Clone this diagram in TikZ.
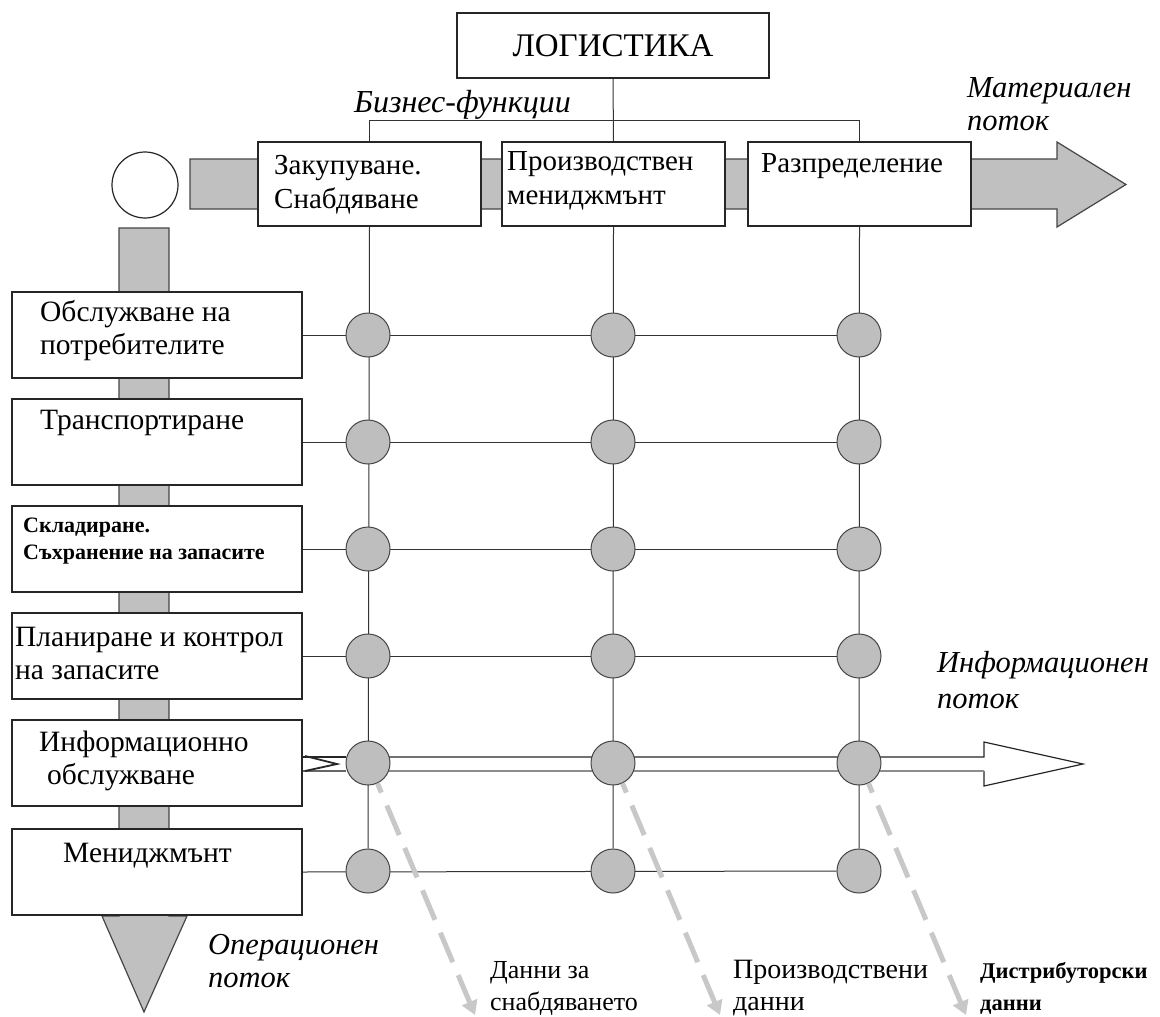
\documentclass[tikz,border=0pt]{standalone}
\usepackage{fontspec}
\setmainfont{Liberation Serif}
\usetikzlibrary{arrows.meta,backgrounds}
\definecolor{bandgray}{RGB}{192,192,192}
\definecolor{dotgray}{RGB}{190,190,190}
\definecolor{dashgray}{RGB}{200,200,200}
\definecolor{edgegray}{RGB}{70,70,70}
\begin{document}
\begin{tikzpicture}[x=1pt,y=-1pt,
  box/.style={draw=black!85, line width=1.2pt, fill=white, inner sep=0pt},
  topbox/.style={box, minimum width=223pt, minimum height=84pt},
  leftbox/.style={box, minimum width=290pt, minimum height=86pt},
  dot/.style={circle, draw=edgegray, fill=dotgray, line width=1pt, minimum size=44pt, inner sep=0pt},
  txt/.style={inner sep=0pt, anchor=west, align=left},
  lbl/.style={txt, font=\fontsize{29.5}{33}\selectfont},
  itl/.style={txt, font=\fontsize{30.5}{33}\selectfont\itshape},
  grid/.style={draw=black!80, line width=1pt},
  band/.style={fill=bandgray, draw=edgegray, line width=1.2pt},
  gdash/.style={draw=dashgray, line width=5pt, dash pattern=on 32pt off 14pt, dash phase=22pt, -{Triangle[length=14pt,width=16pt]}}
]
\useasboundingbox (0,0) rectangle (1160,1017);

% ---- nodes
\node[box, minimum width=312pt, minimum height=65pt, font=\fontsize{33}{36}\selectfont] (log) at (613,45.5) {ЛОГИСТИКА};

\node[topbox] (b1) at (369.5,184) {};
\node[topbox] (b2) at (613.5,184) {};
\node[topbox] (b3) at (859.5,184) {};
\node[lbl, font=\fontsize{29}{34}\selectfont] (tb1) at (274,185) {Закупуване.\\Снабдяване};
\node[lbl, font=\fontsize{29}{34}\selectfont] (tb2) at (507,181) {Производствен\\мениджмънт};
\node[lbl, font=\fontsize{29}{34}\selectfont] (tb3) at (761,166) {Разпределение};

\node[circle, draw=black!85, fill=white, line width=1.2pt, minimum size=66pt, inner sep=0pt] (src) at (145,185) {};

\node[leftbox] (r1) at (157,335) {};
\node[leftbox] (r2) at (157,442) {};
\node[leftbox] (r3) at (157,549) {};
\node[leftbox] (r4) at (157,656) {};
\node[leftbox] (r5) at (157,763) {};
\node[leftbox] (r6) at (157,872) {};

\node[lbl] (t1) at (40,330.5) {Обслужване на\\потребителите};
\node[lbl] (t2) at (40,423) {Транспортиране};
\node[txt, font=\fontsize{22}{27}\selectfont\bfseries] (t3) at (23,541.5) {Складиране.\\Съхранение на запасите};
\node[lbl] (t4) at (15,653.5) {Планиране и контрол\\на запасите};
\node[lbl] (t5) at (39,761) {Информационно\\\hspace*{8pt}обслужване};
\node[lbl] (t6) at (63,856) {Мениджмънт};

\foreach \i/\y in {1/335,2/442,3/549,4/656,5/763,6/871}
  \foreach \j/\x in {1/368,2/613,3/859}
    \node[dot] (c\i\j) at (\x,\y) {};

% ---- flow labels
\node[itl, font=\fontsize{32}{33}\selectfont\itshape] (lbf) at (354,105) {Бизнес-функции};
\node[itl] (lmat) at (967,104) {Материален\\поток};
\node[itl, font=\fontsize{30.5}{36}\selectfont\itshape] (linf) at (937,680) {Информационен\\поток};
\node[itl] (lop) at (208,961) {Операционен\\поток};

\node[txt, font=\fontsize{26}{32}\selectfont] (d1) at (490,988) {Данни за\\снабдяването};
\node[txt, font=\fontsize{28}{32}\selectfont] (d2) at (733,988) {Производствени\\данни};
\node[txt, font=\fontsize{22.5}{32}\selectfont\bfseries] (d3) at (980,988) {Дистрибуторски\\данни};

\coordinate (e1) at (475,1015);
\coordinate (e2) at (720,1015);
\coordinate (e3) at (966,1015);
\draw[gdash] (c51.-65) -- (e1);
\draw[gdash] (c52.-65) -- (e2);
\draw[gdash] (c53.-65) -- (e3);

% ---- background layer
\begin{pgfonlayer}{background}
\fill[white] (0,0) rectangle (1160,1017);
% material flow arrow
\draw[band] (190,159) -- (1057,159) -- (1057,142) -- (1126,184.5) -- (1057,227) -- (1057,209) -- (190,209) -- cycle;
% operational flow arrow
\draw[band] (119,228) -- (169,228) -- (169,916) -- (187,916) -- (144,1012) -- (102,916) -- (119,916) -- cycle;
% tree from ЛОГИСТИКА
\draw[grid] (log.south) -- (b2.north);
\draw[grid] (b1.north) -- ++(0,-21) -| (b3.north);
% grid
\foreach \j in {1,2,3} \draw[grid] (b\j.south) -- (c6\j);
\foreach \i in {1,2,3,4,6} \draw[grid] (r\i.east) -- (c\i3);
% information flow (hollow arrow)
\fill[white] (368,757) -- (984,757) -- (984,742) -- (1083,764) -- (984,786) -- (984,771) -- (368,771) -- cycle;
\draw[draw=black!85, line width=1.2pt] (c51) ++(0,-6) -- (984,757) -- (984,742) -- (1083,764) -- (984,786) -- (984,771);
\draw[draw=black!45, line width=1.2pt] (984,771) -- (c51.center |- 0,771);
% tail of the information flow into the first node
\coordinate (ap) at (337,764);
\draw[draw=black!85, line width=1.2pt] (r5.east |- 0,757) -- (c51.west |- 0,757);
\draw[draw=black!60, line width=1.2pt] (r5.east |- 0,771) -- (c51.west |- 0,771);
\draw[draw=black!85, line width=1.8pt] (305,756) -- (ap) -- (305,771);
\end{pgfonlayer}
\end{tikzpicture}
\end{document}
